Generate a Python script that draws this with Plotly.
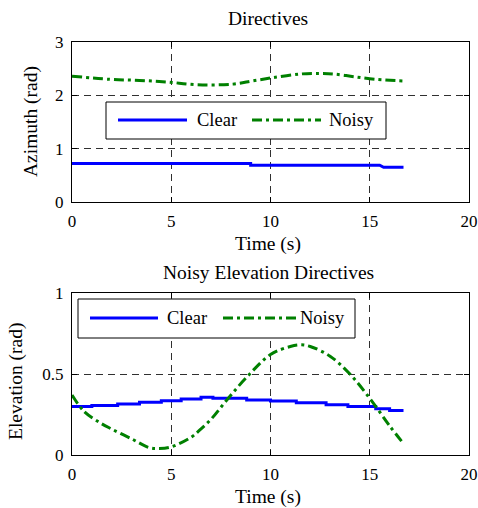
import plotly.graph_objects as go

# ---- data ----
az_clear_t = [0, 9.0, 9.0, 15.5, 15.7, 16.7]
az_clear_v = [0.72, 0.72, 0.69, 0.69, 0.65, 0.65]
az_noisy_t = [0, 1.9, 3.4, 4.8, 6.3, 8.1, 9.1, 10.1, 11.5, 12.5, 13.2, 14.2, 15.3, 16.7]
az_noisy_v = [2.36, 2.30, 2.28, 2.25, 2.20, 2.21, 2.27, 2.33, 2.40, 2.41, 2.40, 2.35, 2.30, 2.27]

el_clear_t = [0, 1.0, 1.0, 2.3, 2.3, 3.4, 3.4, 4.5, 4.5, 5.5, 5.5, 6.5, 6.5, 7.1, 7.1, 8.8, 8.8, 10.0,
              10.0, 11.3, 11.3, 12.8, 12.8, 13.9, 13.9, 15.3, 15.3, 16.0, 16.0, 16.7]
el_clear_v = [0.30, 0.30, 0.305, 0.305, 0.315, 0.315, 0.325, 0.325, 0.335, 0.335, 0.345, 0.345,
              0.357, 0.357, 0.35, 0.35, 0.34, 0.34, 0.333, 0.333, 0.323, 0.323, 0.31, 0.31,
              0.30, 0.30, 0.285, 0.285, 0.275, 0.275]
el_noisy_t = [0, 0.6, 1.4, 2.0, 3.0, 3.9, 4.4, 5.0, 6.0, 6.4, 7.0, 7.8, 8.8, 10.0, 11.0, 11.5,
              12.0, 13.0, 14.0, 15.0, 16.0, 16.7]
el_noisy_v = [0.37, 0.27, 0.20, 0.16, 0.10, 0.045, 0.04, 0.05, 0.11, 0.15, 0.22, 0.34, 0.48, 0.62,
              0.67, 0.68, 0.67, 0.61, 0.50, 0.35, 0.18, 0.07]

x_ticks = [0, 5, 10, 15, 20]
az_ticks = [0, 1, 2, 3]
el_ticks = [0, 0.5, 1]
el_tick_text = ["0", "0.5", "1"]
series_names = ["Clear", "Noisy"]

FONT = "Liberation Serif"
BLUE = "#0000ff"
GREEN = "#008000"
DASHDOT = "10px,4px,3px,4px"
W, H = 478, 508

fig = go.Figure()
fig.add_trace(go.Scatter(x=az_clear_t, y=az_clear_v, mode="lines", name=series_names[0],
                         line=dict(color=BLUE, width=3), xaxis="x", yaxis="y", showlegend=False))
fig.add_trace(go.Scatter(x=az_noisy_t, y=az_noisy_v, mode="lines", name=series_names[1], line_shape="spline",
                         line=dict(color=GREEN, width=3, dash=DASHDOT),
                         xaxis="x", yaxis="y", showlegend=False))
fig.add_trace(go.Scatter(x=el_clear_t, y=el_clear_v, mode="lines", name=series_names[0],
                         line=dict(color=BLUE, width=3), xaxis="x2", yaxis="y2", showlegend=False))
fig.add_trace(go.Scatter(x=el_noisy_t, y=el_noisy_v, mode="lines", name=series_names[1], line_shape="spline",
                         line=dict(color=GREEN, width=3, dash=DASHDOT),
                         xaxis="x2", yaxis="y2", showlegend=False))

xd = [72 / W, 469 / W]
top_d = [1 - 202 / H, 1 - 42 / H]
bot_d = [1 - 455 / H, 1 - 293 / H]

axis_common = dict(showline=True, linecolor="black", linewidth=1, mirror="ticks",
                   showgrid=True, gridcolor="#303030", griddash="7px,5px", gridwidth=1,
                   zeroline=False, ticks="inside", ticklen=5, tickcolor="black", automargin=False,
                   tickfont=dict(family=FONT, size=17, color="black"))


def py(px):
    return 1 - px / H


def px_x(px):
    return px / W


shapes = []
annotations = []


def add_legend(box, blue_seg, green_seg, clear_x, noisy_x, yline):
    x0, y0, x1, y1 = box
    shapes.append(dict(type="rect", xref="paper", yref="paper", x0=px_x(x0), x1=px_x(x1),
                       y0=py(y1), y1=py(y0), line=dict(color="black", width=1), fillcolor="white",
                       layer="above"))
    shapes.append(dict(type="line", xref="paper", yref="paper", x0=px_x(blue_seg[0]), x1=px_x(blue_seg[1]),
                       y0=py(yline), y1=py(yline), line=dict(color=BLUE, width=3), layer="above"))
    shapes.append(dict(type="line", xref="paper", yref="paper", x0=px_x(green_seg[0]), x1=px_x(green_seg[1]),
                       y0=py(yline), y1=py(yline), line=dict(color=GREEN, width=3, dash=DASHDOT),
                       layer="above"))
    for name, xx in zip(series_names, [clear_x, noisy_x]):
        annotations.append(dict(text=name, x=px_x(xx), y=py(yline), xref="paper", yref="paper",
                                xanchor="left", yanchor="middle", showarrow=False,
                                font=dict(family=FONT, size=18.5, color="black")))


add_legend((106, 102, 386, 139), (118, 187), (252, 321), 195, 327, 120)
add_legend((78, 299, 355, 338), (90, 158), (223, 297), 165, 298, 318)

for text, x, y, ang in [("Directives", 268, 18, 0), ("Noisy Elevation Directives", 268, 272, 0),
                        ("Time (s)", 268, 244, 0), ("Time (s)", 268, 497, 0),
                        ("Azimuth (rad)", 31, 122, -90), ("Elevation (rad)", 16, 381, -90)]:
    annotations.append(dict(text=text, x=px_x(x), y=py(y), xref="paper", yref="paper",
                            xanchor="center", yanchor="middle", showarrow=False, textangle=ang,
                            font=dict(family=FONT, size=19.5, color="black")))

fig.update_layout(
    width=W, height=H, margin=dict(l=0, r=0, t=0, b=0),
    paper_bgcolor="white", plot_bgcolor="white",
    font=dict(family=FONT, size=17, color="black"),
    xaxis=dict(domain=xd, anchor="y", range=[0, 20], tickvals=x_ticks, ticklabelstandoff=4, **axis_common),
    yaxis=dict(domain=top_d, anchor="x", range=[0, 3], tickvals=az_ticks, ticklabelstandoff=4, **axis_common),
    xaxis2=dict(domain=xd, anchor="y2", range=[0, 20], tickvals=x_ticks, ticklabelstandoff=4, **axis_common),
    yaxis2=dict(domain=bot_d, anchor="x2", range=[0, 1], tickvals=el_ticks, ticktext=el_tick_text,
                ticklabelstandoff=4, **axis_common),
    shapes=shapes,
    annotations=annotations,
)

fig.write_html("out.html", config={"displayModeBar": False},
               post_script="document.body.style.margin='0';document.body.style.overflow='hidden';")
